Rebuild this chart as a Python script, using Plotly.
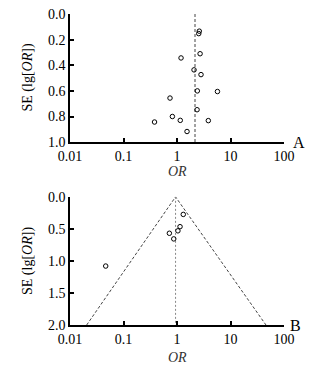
import plotly.graph_objects as go

# Panel A data
a_or = [2.61, 2.55, 2.70, 1.19, 2.08, 2.81, 2.40, 5.70, 0.74, 2.37, 0.82, 1.15, 0.38, 3.85, 1.54]
a_se = [0.134, 0.153, 0.31, 0.343, 0.436, 0.473, 0.60, 0.605, 0.656, 0.747, 0.80, 0.83, 0.843, 0.832, 0.917]
a_pooled = 2.17
a_se_range = [0.0, 1.0]

# Panel B data
b_or = [1.31, 1.14, 1.04, 0.72, 0.87, 0.0465]
b_se = [0.274, 0.465, 0.53, 0.568, 0.656, 1.08]
b_pooled = 0.94
b_funnel_or = [0.0205, 0.94, 46.0]
b_funnel_se = [2.0, 0.0, 2.0]
b_se_range = [0.0, 2.0]

x_tickvals = [0.01, 0.1, 1, 10, 100]
x_ticktext = ["0.01", "0.1", "1", "10", "100"]
a_yticks = [0.0, 0.2, 0.4, 0.6, 0.8, 1.0]
b_yticks = [0.0, 0.5, 1.0, 1.5, 2.0]

FONT = "Liberation Serif, Times New Roman, DejaVu Serif, serif"
fig = go.Figure()

marker = dict(symbol="circle-open", size=4.5, color="black", line=dict(width=1, color="black"))

fig.add_trace(go.Scatter(x=[a_pooled, a_pooled], y=a_se_range, mode="lines",
                         line=dict(color="#444", width=1, dash="3px,2px"), xaxis="x", yaxis="y"))
fig.add_trace(go.Scatter(x=a_or, y=a_se, mode="markers", marker=marker, xaxis="x", yaxis="y"))

fig.add_trace(go.Scatter(x=b_funnel_or, y=b_funnel_se, mode="lines",
                         line=dict(color="#444", width=1, dash="3px,2px"), xaxis="x2", yaxis="y2"))
fig.add_trace(go.Scatter(x=[b_pooled, b_pooled], y=b_se_range, mode="lines",
                         line=dict(color="#888", width=1, dash="2px,2px"), xaxis="x2", yaxis="y2"))
fig.add_trace(go.Scatter(x=b_or, y=b_se, mode="markers", marker=marker, xaxis="x2", yaxis="y2"))

xcommon = dict(type="log", range=[-2, 2], tickvals=x_tickvals, ticktext=x_ticktext, automargin=False,
               showgrid=False, zeroline=False, showline=True, linecolor="black", linewidth=1.5,
               ticks="inside", ticklen=4, tickwidth=1.5, tickcolor="black", ticklabeloverflow="allow",
               tickfont=dict(family=FONT, size=14, color="black"))
ycommon = dict(showgrid=False, zeroline=False, showline=True, linecolor="black", linewidth=1.5, automargin=False,
               ticks="inside", ticklen=4, tickwidth=1.5, tickcolor="black", ticklabeloverflow="allow",
               tickfont=dict(family=FONT, size=14, color="black"))

ytitle = "SE (lg[<i>OR</i>])"
ann_font = dict(family=FONT, size=14, color="black")

fig.update_layout(
    width=321, height=369, showlegend=False,
    margin=dict(l=62, r=45, t=6, b=52),
    paper_bgcolor="white", plot_bgcolor="white",
    xaxis=dict(xcommon, anchor="y", domain=[0, 1]),
    yaxis=dict(ycommon, range=[1.0, 0.0], tickvals=a_yticks, ticktext=["0.0", "0.2", "0.4", "0.6", "0.8", "1.0"],
               domain=[0.588, 1], anchor="x"),
    xaxis2=dict(xcommon, anchor="y2", domain=[0, 1]),
    yaxis2=dict(ycommon, range=[2.0, 0.0], tickvals=b_yticks, ticktext=["0.0", "0.5", "1.0", "1.5", "2.0"],
                domain=[0, 0.412], anchor="x2"),
    annotations=[
        dict(text="<i>OR</i>", x=0.5, y=0.492, xref="paper", yref="paper", showarrow=False,
             xanchor="center", yanchor="middle", font=dict(family=FONT, size=14, color="#333")),
        dict(text="<i>OR</i>", x=0.5, y=-0.106, xref="paper", yref="paper", showarrow=False,
             xanchor="center", yanchor="middle", font=dict(family=FONT, size=14, color="#333")),
        dict(text=ytitle, x=-0.196, y=0.796, xref="paper", yref="paper", showarrow=False, textangle=-90,
             xanchor="center", yanchor="middle", font=ann_font),
        dict(text=ytitle, x=-0.196, y=0.206, xref="paper", yref="paper", showarrow=False, textangle=-90,
             xanchor="center", yanchor="middle", font=ann_font),
        dict(text="A", x=1.07, y=0.588, xref="paper", yref="paper", showarrow=False,
             xanchor="center", yanchor="middle", font=dict(family=FONT, size=16, color="black")),
        dict(text="B", x=1.056, y=0.0, xref="paper", yref="paper", showarrow=False,
             xanchor="center", yanchor="middle", font=dict(family=FONT, size=16, color="black")),
    ],
)

fig.write_html("out.html")
